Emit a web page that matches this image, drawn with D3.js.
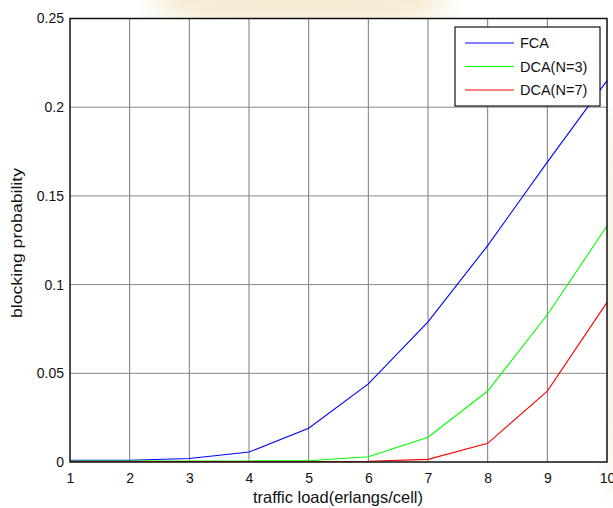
<!DOCTYPE html>
<html>
<head>
<meta charset="utf-8">
<script src="https://cdn.jsdelivr.net/npm/d3@7"></script>
<style>
  body { margin: 0; background: #fff; }
  svg text { font-family: "Liberation Sans", Arial, sans-serif; fill: #111; }
</style>
</head>
<body>
<svg id="chart"></svg>
<script>
// traffic load (erlangs/cell)
const loads = [1, 2, 3, 4, 5, 6, 7, 8, 9, 10];
const fca  = [0.001, 0.001, 0.002, 0.0056, 0.019, 0.044, 0.079, 0.122, 0.169, 0.215];
const dca3 = [0.0006, 0.0006, 0.0006, 0.0006, 0.0007, 0.003, 0.014, 0.040, 0.083, 0.133];
const dca7 = [0.0003, 0.0003, 0.0003, 0.0003, 0.0003, 0.0004, 0.0015, 0.0105, 0.040, 0.090];
const yTicks = [0, 0.05, 0.1, 0.15, 0.2, 0.25];
const seriesNames = ["FCA", "DCA(N=3)", "DCA(N=7)"];
const seriesColors = ["#0000ff", "#00ff00", "#ff0000"];

const W = 613, H = 508;
const margin = {top: 18.5, right: 6, bottom: 46, left: 70};
const width = W - margin.left - margin.right,
      height = H - margin.top - margin.bottom;

const svg = d3.select("#chart").attr("width", W).attr("height", H);

// faint watermark behind the figure
const defs = svg.append("defs");
defs.append("filter").attr("id", "blur").append("feGaussianBlur").attr("stdDeviation", 12);
const wm = svg.append("g").attr("filter", "url(#blur)").attr("opacity", 0.55);
wm.append("ellipse").attr("cx", 300).attr("cy", 0).attr("rx", 150).attr("ry", 30).attr("fill", "#efdcae");
wm.append("ellipse").attr("cx", 625).attr("cy", 300).attr("rx", 20).attr("ry", 200).attr("fill", "#eee0c4");

const g = svg.append("g").attr("transform", `translate(${margin.left},${margin.top})`);

const x = d3.scaleLinear().domain([1, 10]).range([0, width]);
const y = d3.scaleLinear().domain([0, 0.25]).range([height, 0]);

g.append("rect").attr("width", width).attr("height", height).attr("fill", "#fff");

// grid
g.append("g").selectAll("line").data(loads.slice(1, -1)).join("line")
    .attr("x1", d => x(d)).attr("x2", d => x(d))
    .attr("y1", 0).attr("y2", height)
    .attr("stroke", "#555").attr("stroke-width", 0.8);
g.append("g").selectAll("line").data(yTicks.slice(1, -1)).join("line")
    .attr("y1", d => y(d)).attr("y2", d => y(d))
    .attr("x1", 0).attr("x2", width)
    .attr("stroke", "#888").attr("stroke-width", 1);

// series
const line = d3.line().x((d, i) => x(loads[i])).y(d => y(d));
[fca, dca3, dca7].forEach((s, k) => {
    g.append("path").datum(s)
        .attr("fill", "none")
        .attr("stroke", seriesColors[k])
        .attr("stroke-width", 1.1)
        .attr("d", line);
});

// axes
const xAxis = g.append("g").attr("transform", `translate(0,${height})`)
    .call(d3.axisBottom(x).tickValues(loads).tickSize(0).tickPadding(8).tickFormat(d3.format("d")));
const yAxis = g.append("g")
    .call(d3.axisLeft(y).tickValues(yTicks).tickSize(0).tickPadding(6).tickFormat(d => d === 0 ? "0" : String(d)));
[xAxis, yAxis].forEach(a => {
    a.select(".domain").remove();
    a.selectAll("text").style("font-size", "14px").attr("fill", "#111");
});
xAxis.selectAll("text").attr("dy", "0.9em");

g.append("rect").attr("width", width).attr("height", height)
    .attr("fill", "none").attr("stroke", "#111").attr("stroke-width", 1.5);

// axis titles
svg.append("text")
    .attr("x", 253).attr("y", 503)
    .attr("textLength", 170).attr("lengthAdjust", "spacingAndGlyphs")
    .style("font-size", "16.5px")
    .text("traffic load(erlangs/cell)");
svg.append("text")
    .attr("transform", `translate(22,318) rotate(-90)`)
    .attr("textLength", 150).attr("lengthAdjust", "spacingAndGlyphs")
    .style("font-size", "15px")
    .text("blocking probability");

// legend
const legend = svg.append("g").attr("transform", "translate(455,27)");
legend.append("rect").attr("width", 145).attr("height", 79)
    .attr("fill", "#fff").attr("stroke", "#111").attr("stroke-width", 1.2);
seriesNames.forEach((name, i) => {
    const ly = 16 + i * 23.5;
    legend.append("line").attr("x1", 10).attr("x2", 59).attr("y1", ly).attr("y2", ly)
        .attr("stroke", seriesColors[i]).attr("stroke-width", 1.1);
    legend.append("text").attr("x", 65).attr("y", ly + 5)
        .style("font-size", "14.5px").text(name);
});
</script>
</body>
</html>
